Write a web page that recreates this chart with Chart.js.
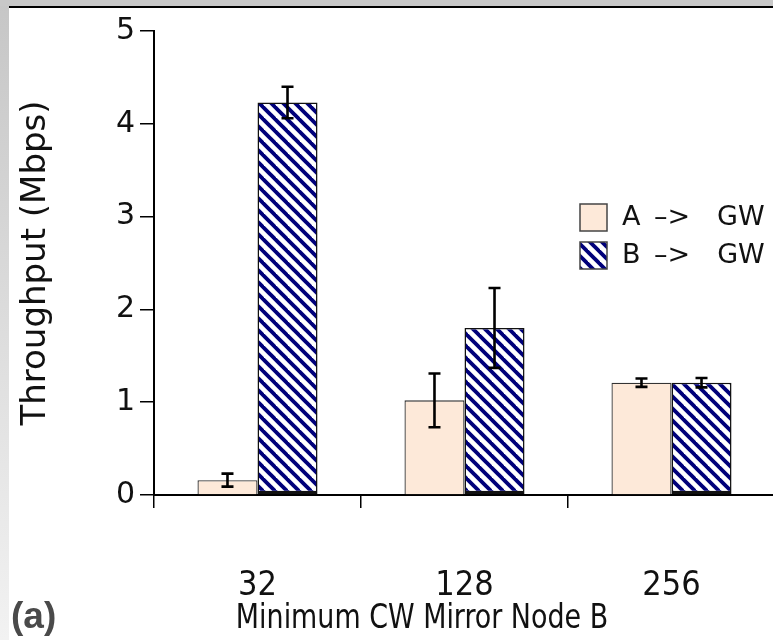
<!DOCTYPE html>
<html><head><meta charset="utf-8">
<script src="https://cdn.jsdelivr.net/npm/chart.js@4.4.0/dist/chart.umd.min.js"></script>
<style>
html,body{margin:0;padding:0;background:#fff;}
#frame{position:absolute;left:0;top:0;width:773px;height:640px;overflow:hidden;background:#fff;}
#leftband{position:absolute;left:0;top:0;width:9px;height:640px;background:linear-gradient(#c6c6c6,#f2f2f2);}
#topband{position:absolute;left:0;top:0;width:773px;height:6px;background:#c8c8c8;}
#topline{position:absolute;left:9px;top:6px;width:764px;height:2px;background:#000;}
canvas{position:absolute;left:0;top:0;}
</style></head>
<body><div id="frame"><div id="leftband"></div><div id="topband"></div><div id="topline"></div><canvas id="c" width="800" height="640"></canvas></div>
<script>
const categories = ['32', '128', '256'];
const seriesNames = ['A -> GW', 'B -> GW'];
const valuesA = [0.16, 1.02, 1.21];
const valuesB = [4.23, 1.80, 1.21];
const errorsA = [0.07, 0.29, 0.045];
const errorsB = [0.17, 0.43, 0.05];
const yTicks = [0, 1, 2, 3, 4, 5];
const yTitle = 'Throughput (Mbps)';
const xTitle = 'Minimum CW Mirror Node B';
const panelLabel = '(a)';

const condensed = "'DejaVu Sans Condensed', 'Liberation Sans Narrow', 'DejaVu Sans', sans-serif";
const sans = "'DejaVu Sans', sans-serif";

function makeStripes() {
  const P = 12;
  const c = document.createElement('canvas');
  c.width = P; c.height = P;
  const g = c.getContext('2d');
  g.fillStyle = '#ffffff';
  g.fillRect(0, 0, P, P);
  g.strokeStyle = '#00007a';
  g.lineWidth = 3.8;
  for (let k = -1; k <= 1; k++) {
    g.beginPath();
    g.moveTo(-P, -P + k * P);
    g.lineTo(2 * P, 2 * P + k * P);
    g.stroke();
  }
  return g.createPattern(c, 'repeat');
}
const stripes = makeStripes();

const errorBars = {
  id: 'errorBars',
  afterDatasetsDraw(chart) {
    const ctx = chart.ctx;
    const ys = chart.scales.y;
    const errs = [errorsA, errorsB];
    ctx.save();
    ctx.strokeStyle = '#000';
    ctx.lineWidth = 2.6;
    chart.data.datasets.forEach((ds, i) => {
      const meta = chart.getDatasetMeta(i);
      meta.data.forEach((el, j) => {
        const v = ds.data[j], e = errs[i][j];
        const yt = ys.getPixelForValue(v + e), yb = ys.getPixelForValue(v - e);
        const x = el.x;
        ctx.beginPath();
        ctx.moveTo(x, yt); ctx.lineTo(x, yb);
        ctx.moveTo(x - 6, yt); ctx.lineTo(x + 6, yt);
        ctx.moveTo(x - 6, yb); ctx.lineTo(x + 6, yb);
        ctx.stroke();
      });
    });
    ctx.restore();
  }
};

const legendAndText = {
  id: 'legendAndText',
  afterDraw(chart) {
    const ctx = chart.ctx;
    ctx.save();
    // legend
    const rows = [204, 242];
    chart.data.datasets.forEach((ds, i) => {
      const y = rows[i];
      ctx.fillStyle = ds.backgroundColor;
      ctx.fillRect(580, y, 27, 27);
      ctx.strokeStyle = '#444';
      ctx.lineWidth = 1.5;
      ctx.strokeRect(580, y, 27, 27);
      ctx.fillStyle = '#111';
      ctx.font = '27px ' + sans;
      ctx.textBaseline = 'middle';
      ctx.textAlign = 'left';
      ctx.fillText(ds.label.replace(' -> ', '\u2002\u2013>\u2003'), 622, y + 14);
    });
    // x axis title (narrow, tall lettering)
    ctx.fillStyle = '#111';
    ctx.font = '34px ' + condensed;
    ctx.textAlign = 'center';
    ctx.textBaseline = 'middle';
    ctx.translate(422, 619);
    ctx.scale(0.88, 1);
    ctx.fillText(xTitle, 0, 0);
    ctx.setTransform(1, 0, 0, 1, 0, 0);
    // panel label
    ctx.fillStyle = '#4a4a4a';
    ctx.font = "bold 37px 'Liberation Sans', Arial, sans-serif";
    ctx.textAlign = 'left';
    ctx.textBaseline = 'alphabetic';
    ctx.fillText(panelLabel, 11, 628);
    ctx.restore();
  }
};

new Chart(document.getElementById('c'), {
  type: 'bar',
  data: {
    labels: categories,
    datasets: [
      { label: seriesNames[0], data: valuesA, backgroundColor: '#fde9d9', borderColor: '#333',
        borderWidth: 1.3, barPercentage: 1.0, categoryPercentage: 0.58 },
      { label: seriesNames[1], data: valuesB, backgroundColor: stripes, borderColor: '#111',
        borderWidth: { top: 1.5, left: 1.5, right: 1.5, bottom: 3.5 }, borderSkipped: false,
        barPercentage: 1.0, categoryPercentage: 0.58 }
    ]
  },
  options: {
    responsive: false,
    animation: false,
    devicePixelRatio: 1,
    layout: { padding: { top: 31, right: 25, left: 0, bottom: 0 } },
    plugins: { legend: { display: false }, tooltip: { enabled: false } },
    scales: {
      x: {
        grid: { offset: true, drawOnChartArea: false, tickLength: 13, color: '#000', lineWidth: 1.5 },
        border: { color: '#000', width: 2 },
        ticks: { font: { family: condensed, size: 34 }, color: '#111', padding: 58 },
        afterFit(s) { s.height = 145; }
      },
      y: {
        min: 0, max: 5,
        afterBuildTicks(s) { s.ticks = yTicks.map(v => ({ value: v })); },
        ticks: { font: { family: sans, size: 30 }, color: '#111', padding: 5 },
        grid: { drawOnChartArea: false, tickLength: 14, color: '#000', lineWidth: 1.5 },
        border: { color: '#000', width: 2 },
        title: { display: true, text: yTitle, font: { family: sans, size: 34 }, color: '#111',
                 padding: { top: 16, bottom: 0 } },
        afterFit(s) { s.width = 154; }
      }
    }
  },
  plugins: [errorBars, legendAndText]
});
</script>
</body></html>
